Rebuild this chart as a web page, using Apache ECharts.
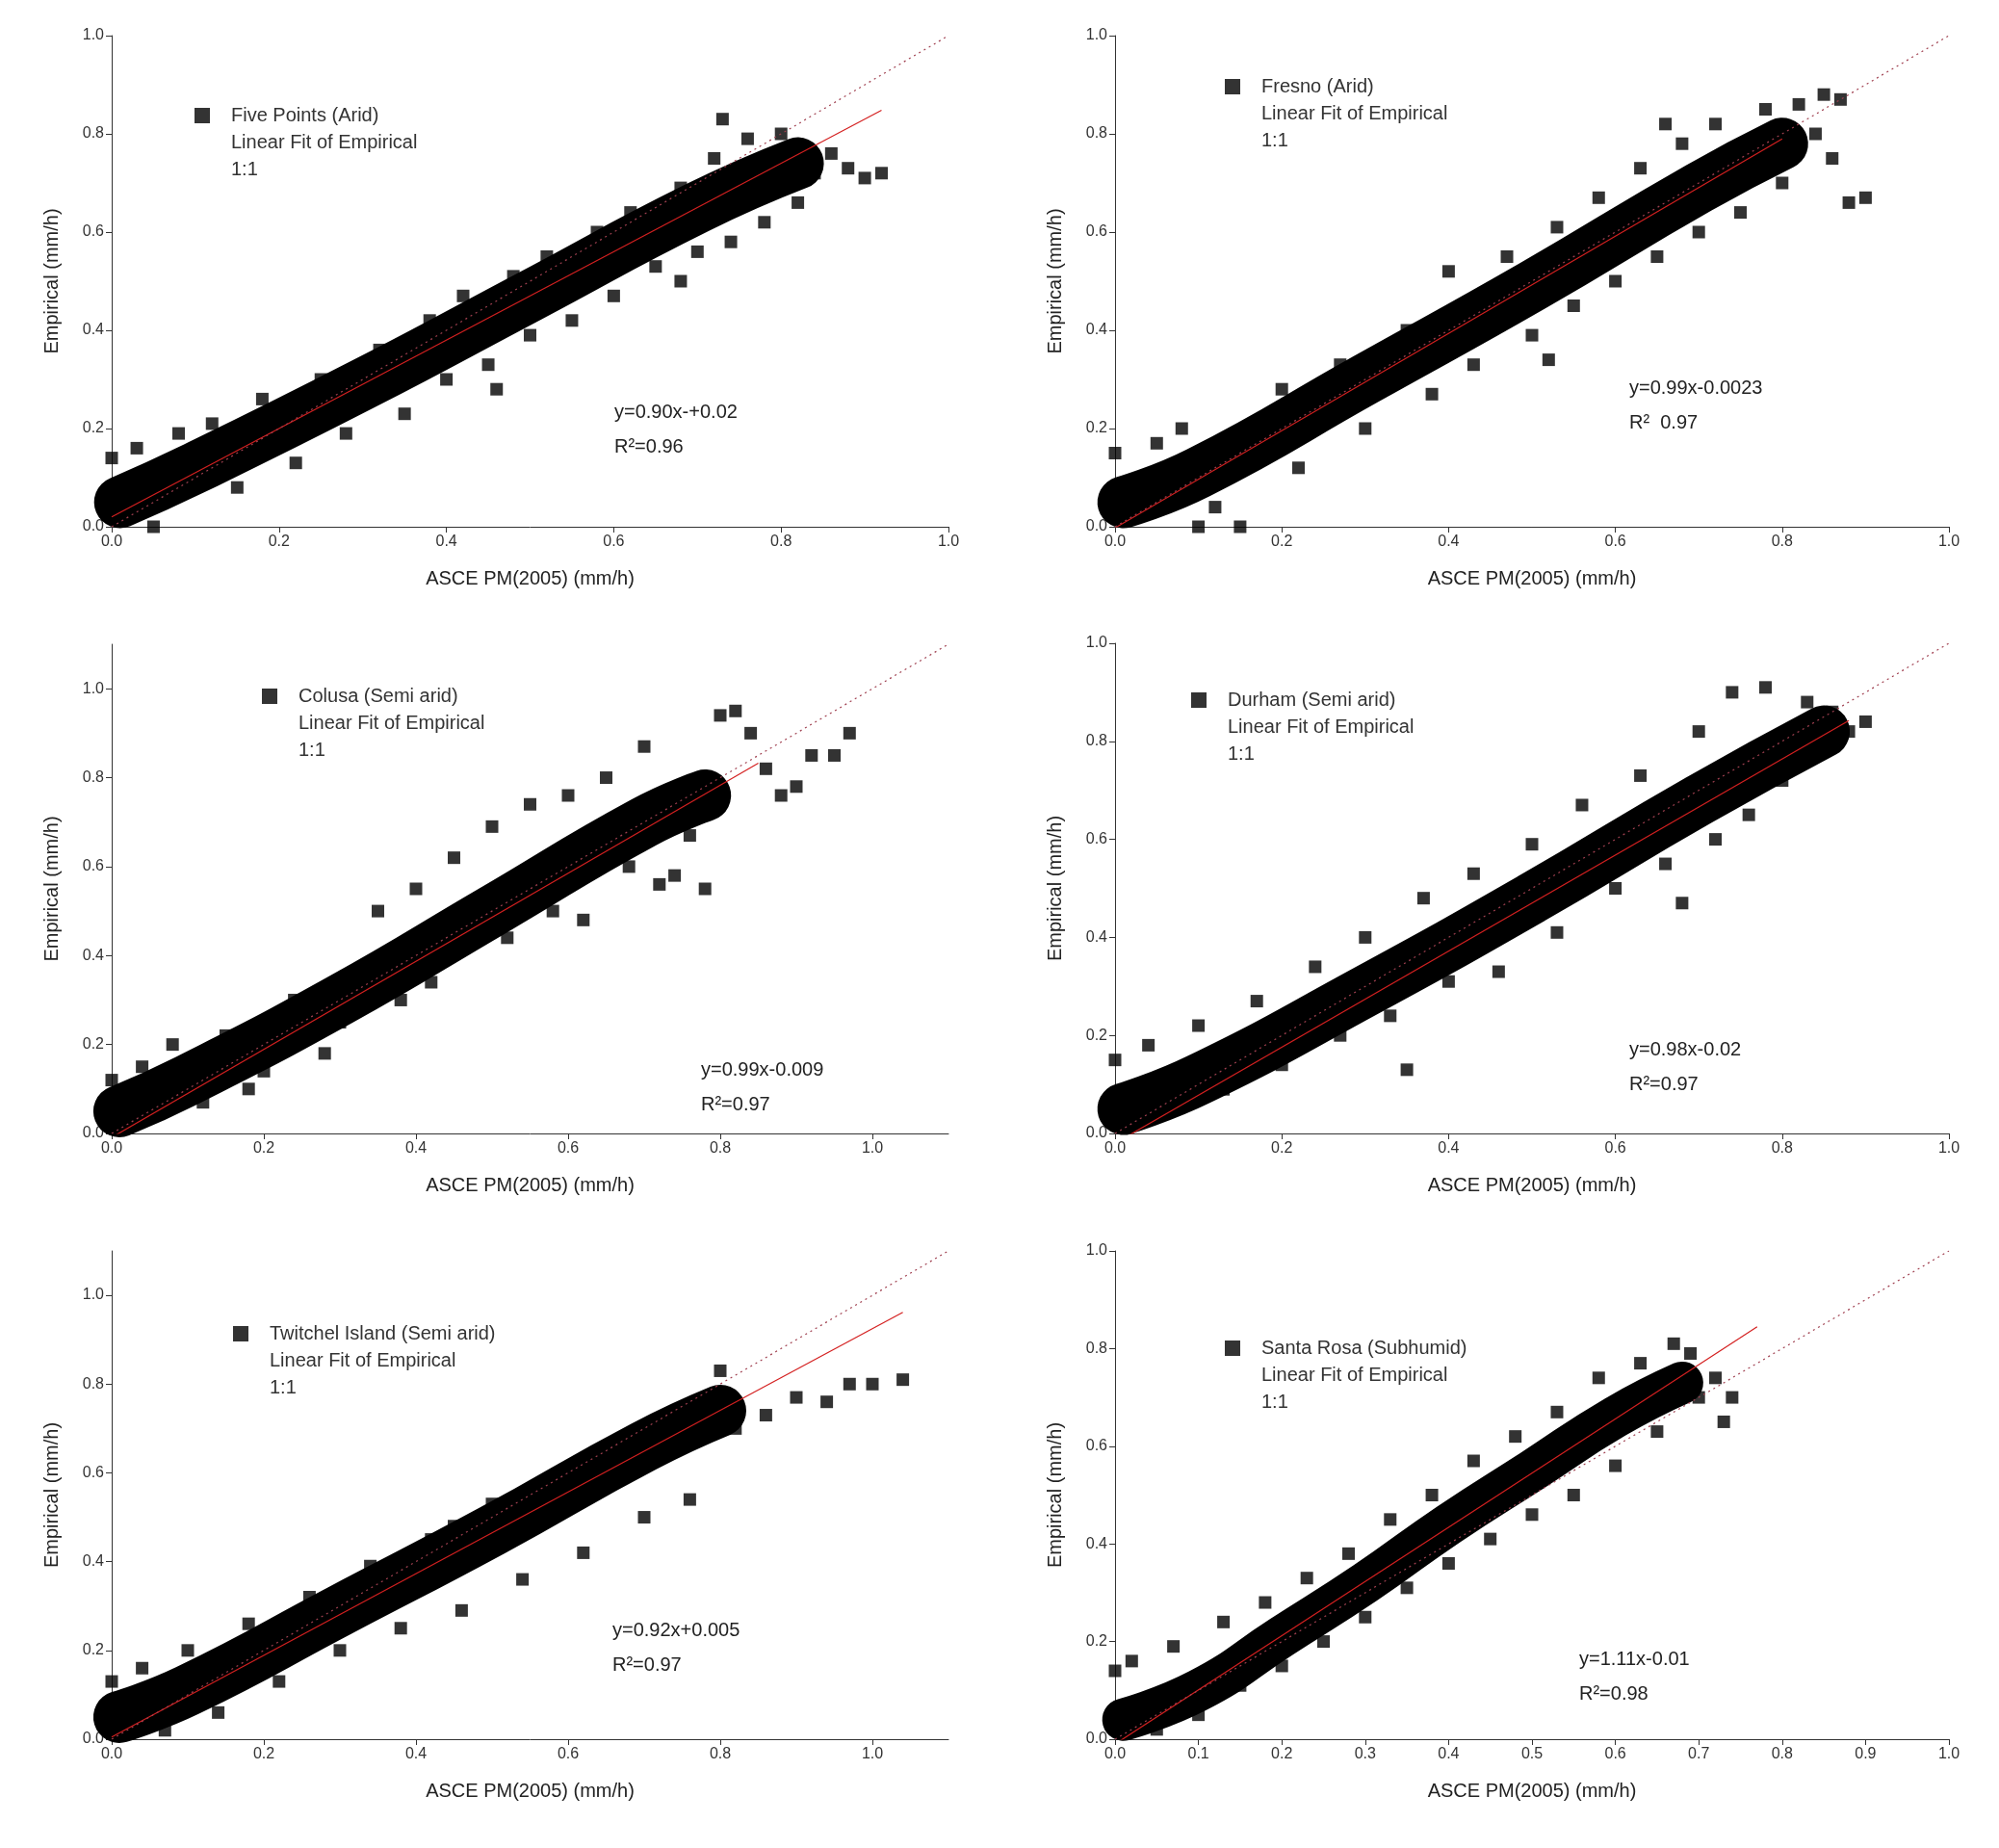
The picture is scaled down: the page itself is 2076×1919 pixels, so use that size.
<!DOCTYPE html>
<html><head><meta charset="utf-8">
<script src="https://cdn.jsdelivr.net/npm/echarts@6/dist/echarts.min.js"></script>
<style>html,body{margin:0;background:#fff}#c{width:2076px;height:1919px}</style></head>
<body><div id="c"></div>
<script>
const siteNames=["Five Points (Arid)","Fresno (Arid)","Colusa (Semi arid)","Durham (Semi arid)","Twitchel Island (Semi arid)","Santa Rosa (Subhumid)"];
const fitSlope=[0.90,0.99,0.99,0.98,0.92,1.11];
const fitIntercept=[0.02,-0.0023,-0.009,-0.02,0.005,-0.01];
const eqText=["y=0.90x-+0.02","y=0.99x-0.0023","y=0.99x-0.009","y=0.98x-0.02","y=0.92x+0.005","y=1.11x-0.01"];
const r2Text=["R²=0.96","R²  0.97","R²=0.97","R²=0.97","R²=0.97","R²=0.98"];
const xMax=[1.0,1.0,1.1,1.0,1.1,1.0];
const yMax=[1.0,1.0,1.1,1.0,1.1,1.0];
const xInterval=[0.2,0.2,0.2,0.2,0.2,0.1];
const core1=[[0.01,0.05],[0.1,0.12],[0.3,0.29],[0.5,0.47],[0.7,0.65],[0.82,0.74]];
const core2=[[0.01,0.05],[0.1,0.11],[0.3,0.3],[0.5,0.49],[0.7,0.69],[0.8,0.78]];
const core3=[[0.01,0.05],[0.1,0.12],[0.3,0.3],[0.5,0.5],[0.7,0.7],[0.78,0.76]];
const core4=[[0.01,0.05],[0.1,0.11],[0.3,0.29],[0.5,0.48],[0.7,0.68],[0.85,0.82]];
const core5=[[0.01,0.05],[0.1,0.11],[0.3,0.29],[0.5,0.47],[0.7,0.66],[0.8,0.74]];
const core6=[[0.01,0.04],[0.1,0.1],[0.2,0.21],[0.3,0.32],[0.4,0.44],[0.5,0.55],[0.6,0.66],[0.68,0.73]];
const pts1=[[0.0,0.14],[0.03,0.16],[0.05,0.0],[0.08,0.19],[0.12,0.21],[0.15,0.08],[0.18,0.26],[0.22,0.13],[0.25,0.3],[0.28,0.19],[0.32,0.36],[0.35,0.23],[0.38,0.42],[0.4,0.3],[0.42,0.47],[0.45,0.33],[0.48,0.51],[0.5,0.39],[0.52,0.55],[0.55,0.42],[0.58,0.6],[0.6,0.47],[0.62,0.64],[0.65,0.53],[0.68,0.69],[0.7,0.56],[0.72,0.75],[0.74,0.58],[0.76,0.79],[0.78,0.62],[0.8,0.8],[0.82,0.66],[0.84,0.72],[0.86,0.76],[0.88,0.73],[0.9,0.71],[0.92,0.72],[0.68,0.5],[0.46,0.28],[0.73,0.83]];
const pts2=[[0.0,0.15],[0.05,0.17],[0.1,0.0],[0.15,0.0],[0.08,0.2],[0.12,0.04],[0.2,0.28],[0.22,0.12],[0.27,0.33],[0.3,0.2],[0.35,0.4],[0.38,0.27],[0.4,0.52],[0.43,0.33],[0.47,0.55],[0.5,0.39],[0.53,0.61],[0.55,0.45],[0.58,0.67],[0.6,0.5],[0.63,0.73],[0.65,0.55],[0.68,0.78],[0.7,0.6],[0.72,0.82],[0.75,0.64],[0.78,0.85],[0.8,0.7],[0.82,0.86],[0.84,0.8],[0.86,0.75],[0.88,0.66],[0.9,0.67],[0.85,0.88],[0.87,0.87],[0.52,0.34],[0.66,0.82]];
const pts3=[[0.0,0.12],[0.04,0.15],[0.08,0.2],[0.12,0.07],[0.15,0.22],[0.2,0.14],[0.24,0.3],[0.28,0.18],[0.3,0.25],[0.35,0.5],[0.38,0.3],[0.4,0.55],[0.42,0.34],[0.45,0.62],[0.48,0.44],[0.5,0.69],[0.52,0.44],[0.55,0.74],[0.58,0.5],[0.6,0.76],[0.62,0.48],[0.65,0.8],[0.68,0.6],[0.7,0.87],[0.72,0.56],[0.74,0.58],[0.76,0.67],[0.78,0.55],[0.8,0.94],[0.82,0.95],[0.84,0.9],[0.86,0.82],[0.88,0.76],[0.9,0.78],[0.92,0.85],[0.95,0.85],[0.97,0.9],[0.3,0.26],[0.18,0.1]];
const pts4=[[0.0,0.15],[0.04,0.18],[0.08,0.06],[0.1,0.22],[0.13,0.09],[0.17,0.27],[0.2,0.14],[0.24,0.34],[0.27,0.2],[0.3,0.4],[0.33,0.24],[0.37,0.48],[0.4,0.31],[0.43,0.53],[0.46,0.33],[0.5,0.59],[0.53,0.41],[0.56,0.67],[0.6,0.5],[0.63,0.73],[0.66,0.55],[0.7,0.82],[0.72,0.6],[0.74,0.9],[0.76,0.65],[0.78,0.91],[0.8,0.72],[0.83,0.88],[0.86,0.86],[0.88,0.82],[0.9,0.84],[0.35,0.13],[0.68,0.47]];
const pts5=[[0.0,0.13],[0.04,0.16],[0.07,0.02],[0.1,0.2],[0.14,0.06],[0.18,0.26],[0.22,0.13],[0.26,0.32],[0.3,0.2],[0.34,0.39],[0.38,0.25],[0.42,0.45],[0.46,0.29],[0.5,0.53],[0.54,0.36],[0.58,0.58],[0.62,0.42],[0.66,0.66],[0.7,0.5],[0.74,0.71],[0.76,0.54],[0.8,0.83],[0.82,0.7],[0.86,0.73],[0.9,0.77],[0.94,0.76],[0.97,0.8],[1.0,0.8],[1.04,0.81],[0.62,0.62],[0.45,0.48]];
const pts6=[[0.0,0.14],[0.02,0.16],[0.05,0.02],[0.07,0.19],[0.1,0.05],[0.13,0.24],[0.15,0.11],[0.18,0.28],[0.2,0.15],[0.23,0.33],[0.25,0.2],[0.28,0.38],[0.3,0.25],[0.33,0.45],[0.35,0.31],[0.38,0.5],[0.4,0.36],[0.43,0.57],[0.45,0.41],[0.48,0.62],[0.5,0.46],[0.53,0.67],[0.55,0.5],[0.58,0.74],[0.6,0.56],[0.63,0.77],[0.65,0.63],[0.67,0.81],[0.7,0.7],[0.72,0.74],[0.74,0.7],[0.73,0.65],[0.69,0.79]];
const cores=[core1,core2,core3,core4,core5,core6];
const ptsAll=[pts1,pts2,pts3,pts4,pts5,pts6];
const grids=[
 {left:116,top:37,width:869,height:510},
 {left:1158,top:37,width:866,height:510},
 {left:116,top:669,width:869,height:508},
 {left:1158,top:668,width:866,height:509},
 {left:116,top:1299,width:869,height:507},
 {left:1158,top:1299,width:866,height:507}];
const legendPos=[[180,105],[1250,75],[250,708],[1215,712],[220,1370],[1250,1385]];
const eqPos=[[638,410],[1692,385],[728,1093],[1692,1072],[636,1675],[1640,1705]];
const opt={animation:false,backgroundColor:'#fff',grid:grids,xAxis:[],yAxis:[],series:[],legend:[],graphic:[]};
const ax={axisLine:{lineStyle:{color:'#333',width:1}},axisTick:{inside:false,length:6,lineStyle:{color:'#333'}},
 splitLine:{show:false},axisLabel:{color:'#333',fontSize:16,fontFamily:'Liberation Sans',formatter:v=>v.toFixed(1)},
 nameTextStyle:{color:'#222',fontSize:20,fontFamily:'Liberation Sans'}};
for(let i=0;i<6;i++){
 opt.xAxis.push(Object.assign({},ax,{gridIndex:i,type:'value',min:0,max:xMax[i],interval:xInterval[i],name:'ASCE PM(2005) (mm/h)',nameLocation:'middle',nameGap:44,
  axisLabel:Object.assign({},ax.axisLabel,{showMaxLabel:xMax[i]<=1.0})}));
 opt.yAxis.push(Object.assign({},ax,{gridIndex:i,type:'value',min:0,max:yMax[i],interval:0.2,name:'Empirical (mm/h)',nameLocation:'middle',nameGap:52,
  axisLabel:Object.assign({},ax.axisLabel,{showMaxLabel:yMax[i]<=1.0})}));
 opt.series.push({type:'line',xAxisIndex:i,yAxisIndex:i,data:cores[i],symbol:'none',smooth:true,lineStyle:{color:'#000',width:i===5?44:54,cap:'round',join:'round'},silent:true,z:1});
 opt.series.push({name:siteNames[i],type:'scatter',xAxisIndex:i,yAxisIndex:i,data:ptsAll[i],symbol:'rect',symbolSize:13,itemStyle:{color:'#000'},z:2});
 const fitEnd=[0.92,0.8,0.85,0.88,1.04,0.77][i];
 opt.series.push({name:'Linear Fit of Empirical',type:'line',xAxisIndex:i,yAxisIndex:i,symbol:'none',
  data:[[0,fitIntercept[i]],[fitEnd,fitSlope[i]*fitEnd+fitIntercept[i]]],lineStyle:{color:'#d42020',width:1.2},z:3});
 opt.series.push({name:'1:1',type:'line',xAxisIndex:i,yAxisIndex:i,symbol:'none',data:[[0,0],[xMax[i],xMax[i]]],
  lineStyle:{color:'#a04050',width:1.2,type:[2,4]},z:3});
 opt.legend.push({orient:'vertical',left:legendPos[i][0],top:legendPos[i][1],itemGap:8,itemWidth:50,itemHeight:16,
  textStyle:{fontSize:20,color:'#333',fontFamily:'Liberation Sans'},
  data:[{name:siteNames[i],icon:'path://M0,0h1v1h-1z',itemStyle:{color:'#000'}},
        {name:'Linear Fit of Empirical',icon:'none',itemStyle:{opacity:0}},
        {name:'1:1',icon:'none',itemStyle:{opacity:0}}],
  selectedMode:false});
 opt.graphic.push({type:'text',left:eqPos[i][0],top:eqPos[i][1],style:{text:eqText[i]+'\n'+r2Text[i],fontSize:20,lineHeight:36,fill:'#222',fontFamily:'Liberation Sans'}});
}
const ch=echarts.init(document.getElementById('c'));
ch.setOption(opt);
</script></body></html>
